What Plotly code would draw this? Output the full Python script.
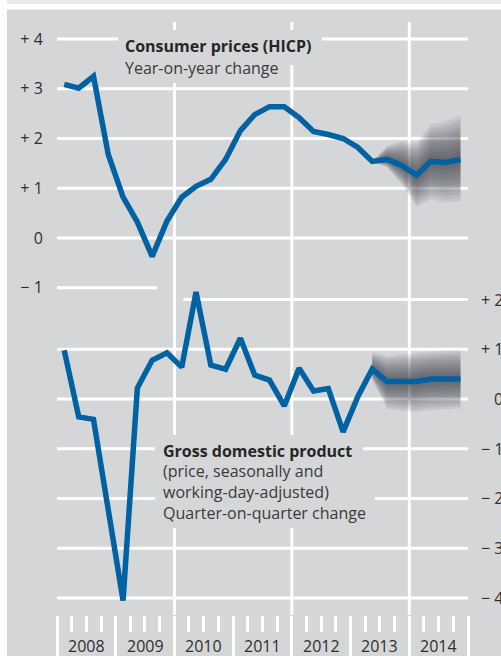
import plotly.graph_objects as go

# ---------------- data ----------------
quarters = ["2008 Q1", "2008 Q2", "2008 Q3", "2008 Q4",
            "2009 Q1", "2009 Q2", "2009 Q3", "2009 Q4",
            "2010 Q1", "2010 Q2", "2010 Q3", "2010 Q4",
            "2011 Q1", "2011 Q2", "2011 Q3", "2011 Q4",
            "2012 Q1", "2012 Q2", "2012 Q3", "2012 Q4",
            "2013 Q1", "2013 Q2", "2013 Q3", "2013 Q4",
            "2014 Q1", "2014 Q2", "2014 Q3", "2014 Q4"]

# Consumer prices (HICP), year-on-year change, %
hicp = [3.09, 3.01, 3.25, 1.68, 0.82, 0.32, -0.37, 0.34,
        0.82, 1.04, 1.18, 1.58, 2.16, 2.48, 2.64, 2.64,
        2.42, 2.14, 2.08, 2.00, 1.82, 1.54, 1.58, 1.46,
        1.26, 1.54, 1.52, 1.58]

# Gross domestic product, quarter-on-quarter change, %
gdp = [0.98, -0.36, -0.41, -2.20, -4.05, 0.22, 0.78, 0.93,
       0.64, 2.15, 0.68, 0.60, 1.22, 0.48, 0.38, -0.14,
       0.62, 0.16, 0.21, -0.66, 0.05, 0.60, 0.35, 0.35,
       0.35, 0.40, 0.40, 0.40]

# projection fan (outer bounds), from 2013 Q2 onwards
fan_quarters = ["2013 Q2", "2013 Q3", "2013 Q4", "2014 Q1", "2014 Q2", "2014 Q3", "2014 Q4"]
hicp_fan_upper = [1.54, 1.85, 1.95, 1.92, 2.28, 2.35, 2.47]
hicp_fan_lower = [1.54, 1.42, 1.08, 0.62, 0.78, 0.71, 0.75]
gdp_fan_upper = [0.94, 0.86, 0.90, 0.93, 0.96, 0.98, 0.98]
gdp_fan_lower = [0.38, -0.19, -0.24, -0.26, -0.22, -0.21, -0.19]

years = ["2008", "2009", "2010", "2011", "2012", "2013", "2014"]
grid_years = ["2010", "2012", "2014"]

hicp_ticks = [4, 3, 2, 1, 0, -1]
hicp_ticktext = ["+ 4", "+ 3", "+ 2", "+ 1", "0", "\u2212 1"]
gdp_ticks = [2, 1, 0, -1, -2, -3, -4]
gdp_ticktext = ["+ 2", "+ 1", "0", "\u2212 1", "\u2212 2", "\u2212 3", "\u2212 4"]

# ---------------- style ----------------
BG = "#d5d6d8"
BLUE = "#0061a3"
TXT = "#2e2e2e"
FONT = "Open Sans"
W, H = 501, 656
L, R, T, B = 57, 33, 22, 41
PW, PH = W - L - R, H - T - B


def qdate(q):
    y, qq = q.split(" Q")
    return f"{y}-{3 * (int(qq) - 1) + 2:02d}-15"


def px(xp):
    return (xp - L) / PW


def py(yp):
    return (H - B - yp) / PH


x = [qdate(q) for q in quarters]
fx = [qdate(q) for q in fan_quarters]
n0 = quarters.index(fan_quarters[0])

fig = go.Figure()

# fan charts (layered translucent bands -> darker centre)
N = 12
for center, up, lo, yax in [(hicp[n0:], hicp_fan_upper, hicp_fan_lower, "y"),
                            (gdp[n0:], gdp_fan_upper, gdp_fan_lower, "y2")]:
    for k in range(N, 0, -1):
        f = k / N
        u = [c + f * (a - c) for c, a in zip(center, up)]
        l = [c - f * (c - b) for c, b in zip(center, lo)]
        fig.add_trace(go.Scatter(
            x=fx + fx[::-1], y=u + l[::-1], yaxis=yax,
            fill="toself", fillcolor="rgba(60,60,66,0.09)",
            line=dict(width=0), mode="lines", hoverinfo="skip", showlegend=False))

fig.add_trace(go.Scatter(x=x, y=hicp, mode="lines", yaxis="y",
                         line=dict(color=BLUE, width=5.5), showlegend=False))
fig.add_trace(go.Scatter(x=x, y=gdp, mode="lines", yaxis="y2",
                         line=dict(color=BLUE, width=5.5), showlegend=False))

# ---------------- shapes: strips, grid, text boxes ----------------
shapes = []
# white frame strips and light top band
shapes.append(dict(type="rect", xref="paper", yref="paper", x0=px(-5), x1=px(7), y0=py(H + 5), y1=py(-5),
                   fillcolor="white", line=dict(width=0), layer="below"))
shapes.append(dict(type="rect", xref="paper", yref="paper", x0=px(7), x1=px(W + 5), y0=py(9.5), y1=py(4),
                   fillcolor="white", line=dict(width=0), layer="below"))
shapes.append(dict(type="rect", xref="paper", yref="paper", x0=px(7), x1=px(W + 5), y0=py(4), y1=py(-5),
                   fillcolor="#ebebed", line=dict(width=0), layer="below"))

gl = dict(color="white", width=3)
for g in grid_years:
    shapes.append(dict(type="line", xref="x", yref="paper", x0=f"{g}-01-01", x1=f"{g}-01-01",
                       y0=0, y1=1, line=gl, layer="below"))
for v in hicp_ticks:
    if v == -1:
        shapes.append(dict(type="line", xref="x", yref="y", x0="2008-01-01", x1="2009-09-15",
                           y0=v, y1=v, line=gl, layer="below"))
    else:
        shapes.append(dict(type="line", xref="paper", yref="y", x0=0, x1=1, y0=v, y1=v,
                           line=gl, layer="below"))
for v in gdp_ticks:
    if v == 2:
        shapes.append(dict(type="line", xref="x", yref="y2", x0="2010-02-25", x1="2015-01-01",
                           y0=v, y1=v, line=gl, layer="below"))
    else:
        shapes.append(dict(type="line", xref="paper", yref="y2", x0=0, x1=1, y0=v, y1=v,
                           line=gl, layer="below"))

# background boxes behind the text blocks (hide gridlines)
for (xa, xb, ya, yb) in [(118, 322, 30, 65), (118, 290, 56, 83),
                         (155, 363, 435, 462), (155, 375, 460, 528)]:
    shapes.append(dict(type="rect", xref="paper", yref="paper", x0=px(xa), x1=px(xb),
                       y0=py(yb), y1=py(ya), fillcolor=BG, line=dict(width=0), layer="below"))

fig.update_layout(shapes=shapes)

# ---------------- annotations ----------------
ann = []
ann.append(dict(text="<b>Consumer prices (HICP)</b>", x=px(125), y=py(46), xref="paper", yref="paper",
                xanchor="left", yanchor="middle", showarrow=False, borderpad=0, borderwidth=0,
                font=dict(family=FONT, size=16, color="#262626")))
ann.append(dict(text="Year-on-year change", x=px(125), y=py(68), xref="paper", yref="paper",
                xanchor="left", yanchor="middle", showarrow=False, borderpad=0, borderwidth=0,
                font=dict(family=FONT, size=16, color="#3a3a3a")))
ann.append(dict(text="<b>Gross domestic product</b>", x=px(163), y=py(451), xref="paper", yref="paper",
                xanchor="left", yanchor="middle", showarrow=False, borderpad=0, borderwidth=0,
                font=dict(family=FONT, size=16, color="#262626")))
ann.append(dict(text="(price, seasonally and<br>working-day-adjusted)<br>Quarter-on-quarter change",
                x=px(163), y=py(492), xref="paper", yref="paper", align="left",
                xanchor="left", yanchor="middle", showarrow=False, borderpad=0, borderwidth=0,
                font=dict(family=FONT, size=16, color="#3a3a3a")))
for v, t in zip(gdp_ticks, gdp_ticktext):
    ann.append(dict(text=t, x=px(503), y=v, xref="paper", yref="y2", xanchor="right", yanchor="middle",
                    showarrow=False, borderpad=0, borderwidth=0,
                    font=dict(family=FONT, size=16, color=TXT)))
for yr in years:
    ann.append(dict(text=yr, x=f"{yr}-07-02", y=py(646), xref="x", yref="paper",
                    xanchor="center", yanchor="middle", showarrow=False, borderpad=0, borderwidth=0,
                    font=dict(family=FONT, size=16, color=TXT)))
fig.update_layout(annotations=ann)

# ---------------- axes / layout ----------------
fig.update_layout(
    width=W, height=H,
    margin=dict(l=L, r=R, t=T, b=B, pad=0, autoexpand=False),
    paper_bgcolor=BG, plot_bgcolor=BG,
    font=dict(family=FONT, size=16, color=TXT),
    showlegend=False,
    xaxis=dict(type="date", range=["2008-01-01", "2015-01-01"], automargin=False,
               tick0="2008-01-01", dtick="M12",
               ticks="outside", ticklen=41, tickwidth=2.5, tickcolor="white",
               showticklabels=False, showgrid=False, zeroline=False, showline=False,
               minor=dict(dtick="M3", tick0="2008-01-01", ticks="outside", ticklen=16,
                          tickwidth=2.5, tickcolor="white", showgrid=False)),
    yaxis=dict(range=[-7.578, 4.342], tickvals=hicp_ticks, ticktext=hicp_ticktext, automargin=False,
               ticks="outside", ticklen=10, tickcolor="rgba(0,0,0,0)",
               showgrid=False, zeroline=False, showline=False,
               tickfont=dict(family=FONT, size=16, color=TXT)),
    yaxis2=dict(range=[-4.342, 7.578], overlaying="y", side="right", automargin=False,
                showticklabels=False, showgrid=False, zeroline=False, showline=False, ticks=""),
)

fig.write_html("out.html", config={"displayModeBar": False},
               post_script="document.body.style.margin='0px';document.body.style.overflow='hidden';")
